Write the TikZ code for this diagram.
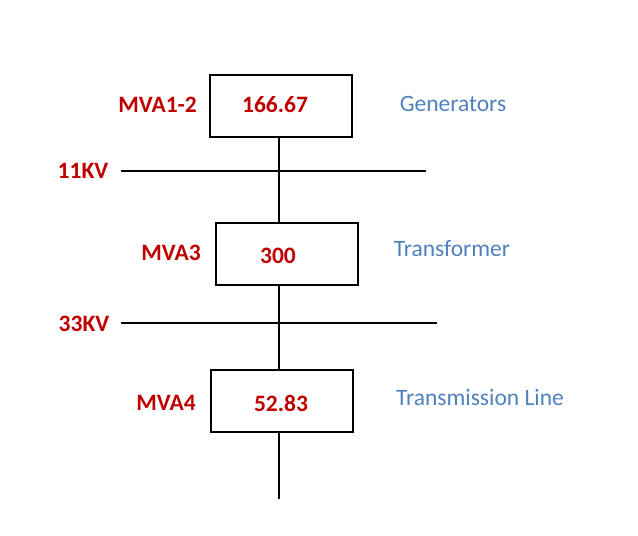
\documentclass[tikz,border=0pt]{standalone}
\usepackage{fontspec}
\setmainfont{Carlito}
\definecolor{mvared}{HTML}{C00000}
\definecolor{labblue}{HTML}{4F81BD}
\begin{document}
\begin{tikzpicture}[x=1pt,y=-1pt,
  box/.style={draw=black,line width=2pt,minimum width=142pt,minimum height=62pt,inner sep=0pt},
  val/.style={text=mvared,font=\fontsize{23.5}{28}\selectfont\bfseries,inner sep=0pt},
  lab/.style={text=labblue,font=\fontsize{23.5}{28}\selectfont,inner sep=0pt},
  wire/.style={line width=1.6pt}]
\useasboundingbox (0,0) rectangle (638,536);
% boxes
\node[box] (b1) at (281,105.5) {};
\node[box] (b2) at (287,253.5) {};
\node[box] (b3) at (281.5,400.5) {};
% values in boxes
\node[val] (v1) at (275,105) {166.67};
\node[val] (v2) at (278,256) {300};
\node[val] (v3) at (281,403) {52.83};
% MVA labels
\node[val,anchor=east] (m1) at (197,105) {MVA1-2};
\node[val] (m2) at (171,253) {MVA3};
\node[val] (m3) at (166,403) {MVA4};
% voltages
\node[val] (k1) at (83,171) {11KV};
\node[val] (k2) at (84,324) {33KV};
% right labels
\node[lab] (g) at (453,104) {Generators};
\node[lab] (t) at (452,249) {Transformer};
\node[lab] (tl) at (480,397) {Transmission Line};
% buses
\coordinate (bus1a) at (121,171);
\coordinate (bus1b) at (426,171);
\coordinate (bus2a) at (121,323);
\coordinate (bus2b) at (437,323);
\draw[wire] (bus1a) -- (bus1b);
\draw[wire] (bus2a) -- (bus2b);
% vertical connections
\coordinate (vx) at (279,0);
\coordinate (bottom) at (279,499);
\draw[wire] (b1.south -| vx) -- (b2.north -| vx);
\draw[wire] (b2.south -| vx) -- (b3.north -| vx);
\draw[wire] (b3.south -| vx) -- (bottom);
\end{tikzpicture}
\end{document}
